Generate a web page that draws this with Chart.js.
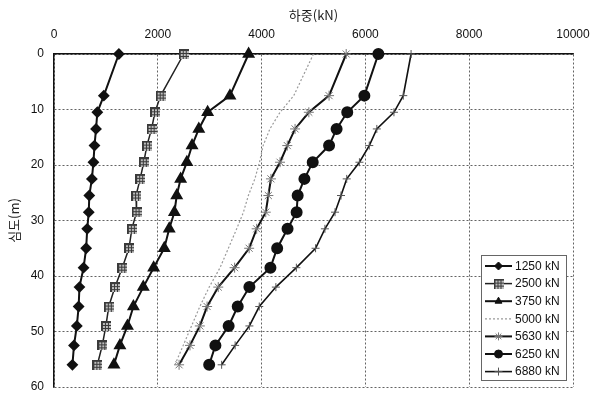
<!DOCTYPE html>
<html>
<head>
<meta charset="utf-8">
<script src="https://cdn.jsdelivr.net/npm/chart.js@4.4.0/dist/chart.umd.min.js"></script>
<style>
  html, body { margin: 0; padding: 0; background: #fff; }
  #wrap { width: 590px; height: 398px; }
</style>
</head>
<body>
<div id="wrap"><canvas id="loadChart" width="590" height="398"></canvas></div>
<script>
// depth of each gauge (m) and measured load (kN) per load step
const depths = [0, 7.5, 10.5, 13.5, 16.5, 19.5, 22.5, 25.5, 28.5, 31.5, 35, 38.5, 42, 45.5, 49, 52.5, 56];
const load1250 = [1250, 960, 835, 810, 780, 760, 730, 680, 670, 640, 620, 570, 490, 475, 440, 385, 355];
const load2500 = [2500, 2055, 1945, 1880, 1790, 1730, 1660, 1580, 1590, 1500, 1445, 1315, 1175, 1055, 1000, 930, 835];
const load3750 = [3750, 3390, 2960, 2790, 2660, 2560, 2440, 2365, 2320, 2220, 2125, 1920, 1720, 1530, 1415, 1270, 1155];
const load5000 = [5000, 4620, 4355, 4160, 4030, 3960, 3870, 3745, 3650, 3520, 3360, 3200, 2990, 2810, 2650, 2490, 2330];
const load5630 = [5630, 5300, 4910, 4645, 4495, 4355, 4180, 4130, 4080, 3905, 3760, 3480, 3165, 2950, 2810, 2620, 2410];
const load6250 = [6250, 5980, 5650, 5445, 5300, 4985, 4825, 4695, 4675, 4500, 4300, 4170, 3765, 3540, 3365, 3110, 2990];
const load6880 = [6880, 6730, 6550, 6220, 6075, 5885, 5640, 5530, 5415, 5220, 5040, 4670, 4275, 3955, 3765, 3490, 3230];
const seriesLabels = ['1250 kN', '2500 kN', '3750 kN', '5000 kN', '5630 kN', '6250 kN', '6880 kN'];

const xTicks = [0, 2000, 4000, 6000, 8000, 10000];
const yTicks = [0, 10, 20, 30, 40, 50, 60];

const tickFont = { family: 'Liberation Sans, Arial, sans-serif', size: 12 };
const titleFont = { family: 'Noto Sans CJK KR, sans-serif', size: 13 };

// hatched square marker for the 2500 kN series
function hatchSquare() {
    const c = document.createElement('canvas');
    c.width = 10; c.height = 10;
    const g = c.getContext('2d');
    g.fillStyle = '#3a3a3a';
    g.fillRect(0, 0, 10, 10);
    g.fillStyle = '#bdbdbd';
    for (let i = 2; i < 9; i += 3) {
        for (let j = 2; j < 9; j += 3) g.fillRect(i, j, 2, 2);
    }
    return c;
}
const squareImg = hatchSquare();

function pts(loads) {
    return loads.map((v, i) => ({ x: v, y: depths[i] }));
}

const datasets = [
    { label: seriesLabels[0], data: pts(load1250), borderColor: '#111', backgroundColor: '#111',
      borderWidth: 2, pointStyle: 'rectRot', pointRadius: 4.5 },
    { label: seriesLabels[1], data: pts(load2500), borderColor: '#222', backgroundColor: '#444',
      borderWidth: 1.5, pointStyle: squareImg, pointRadius: 5 },
    { label: seriesLabels[2], data: pts(load3750), borderColor: '#111', backgroundColor: '#111',
      borderWidth: 2, pointStyle: 'triangle', pointRadius: 5.5 },
    { label: seriesLabels[3], data: pts(load5000), borderColor: '#9a9a9a', backgroundColor: '#9a9a9a',
      borderWidth: 1.2, borderDash: [2, 2], pointRadius: 0 },
    { label: seriesLabels[4], data: pts(load5630), borderColor: '#111', backgroundColor: '#777',
      borderWidth: 2, pointStyle: 'star', pointRadius: 5, pointBorderColor: '#777', pointBorderWidth: 1 },
    { label: seriesLabels[5], data: pts(load6250), borderColor: '#111', backgroundColor: '#111',
      borderWidth: 2, pointStyle: 'circle', pointRadius: 5 },
    { label: seriesLabels[6], data: pts(load6880), borderColor: '#111', backgroundColor: '#111',
      borderWidth: 1.6, pointStyle: 'cross', pointRadius: 4, pointBorderColor: '#555', pointBorderWidth: 1 }
];
datasets.forEach(ds => { ds.clip = false; });

// legend drawn inside the plot, lower right
const innerLegend = {
    id: 'innerLegend',
    afterDatasetsDraw(chart) {
        const { ctx, chartArea } = chart;
        const w = 85, h = 125;
        const x0 = chartArea.right - 7 - w;
        const y0 = chartArea.bottom - 7 - h;
        ctx.save();
        ctx.fillStyle = '#fff';
        ctx.fillRect(x0, y0, w, h);
        ctx.strokeStyle = '#666';
        ctx.lineWidth = 1;
        ctx.strokeRect(x0 + 0.5, y0 + 0.5, w, h);
        chart.data.datasets.forEach((ds, i) => {
            const cy = y0 + 11 + i * 17.6;
            ctx.save();
            ctx.strokeStyle = ds.borderColor;
            ctx.lineWidth = ds.borderWidth;
            ctx.setLineDash(ds.borderDash || []);
            ctx.beginPath();
            ctx.moveTo(x0 + 4, cy);
            ctx.lineTo(x0 + 31, cy);
            ctx.stroke();
            ctx.restore();
            if (ds.pointRadius > 0) {
                ctx.save();
                ctx.fillStyle = ds.backgroundColor;
                ctx.strokeStyle = ds.pointBorderColor || ds.borderColor;
                ctx.lineWidth = 1;
                Chart.helpers.drawPoint(ctx, {
                    pointStyle: ds.pointStyle, radius: Math.min(ds.pointRadius, 4), rotation: 0, borderWidth: 1
                }, x0 + 17.5, cy);
                ctx.restore();
            }
            ctx.fillStyle = '#111';
            ctx.font = '12px Liberation Sans, Arial, sans-serif';
            ctx.textBaseline = 'middle';
            ctx.textAlign = 'left';
            ctx.fillText(ds.label, x0 + 34, cy + 0.5);
        });
        ctx.restore();
    }
};

const ctx = document.getElementById('loadChart').getContext('2d');
const loadChart = new Chart(ctx, {
    type: 'scatter',
    data: { datasets: datasets },
    options: {
        responsive: false,
        animation: false,
        showLine: true,
        layout: { padding: { left: 0, top: 0, right: 17, bottom: 11 } },
        plugins: { legend: { display: false }, tooltip: { enabled: false } },
        elements: { line: { tension: 0, fill: false } },
        scales: {
            x: {
                type: 'linear',
                position: 'top',
                min: 0,
                max: 10000,
                afterBuildTicks: (axis) => { axis.ticks = xTicks.map(v => ({ value: v })); },
                afterFit: (axis) => {
                    axis.height = 54;
                    axis.paddingLeft = 0;
                    axis.paddingRight = 0;
                },
                ticks: { font: tickFont, color: '#111', padding: 12, maxRotation: 0, callback: (v) => String(v) },
                grid: { color: '#222', lineWidth: 0.7, drawTicks: false },
                border: { display: true, color: '#111', width: 1.5, dash: [2, 2] },
                title: { display: true, text: '하중(kN)', font: titleFont, color: '#222', padding: { top: 7, bottom: 0 } }
            },
            y: {
                type: 'linear',
                reverse: true,
                min: 0,
                max: 60,
                afterBuildTicks: (axis) => { axis.ticks = yTicks.map(v => ({ value: v })); },
                afterFit: (axis) => {
                    axis.width = 54;
                    axis.paddingTop = 0;
                    axis.paddingBottom = 0;
                },
                ticks: { font: tickFont, color: '#111', padding: 10, callback: (v) => String(v) },
                grid: { color: '#222', lineWidth: 0.7, drawTicks: false },
                border: { display: true, color: '#111', width: 1.5, dash: [2, 2] },
                title: { display: true, text: '심도(m)', font: titleFont, color: '#222', padding: { top: 6, bottom: 0 } }
            }
        }
    },
    plugins: [innerLegend]
});
</script>
</body>
</html>
